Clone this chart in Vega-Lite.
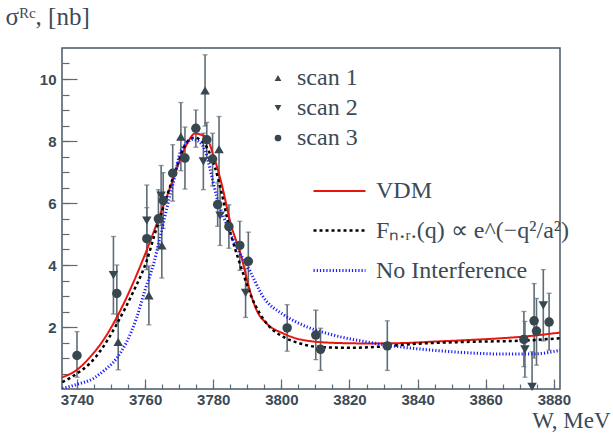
{
  "$schema": "https://vega.github.io/schema/vega-lite/v6.json",
  "width": 498,
  "height": 341,
  "autosize": "none",
  "padding": {"left": 62, "top": 48, "right": 53, "bottom": 44},
  "background": "white",
  "config": {
    "view": {"stroke": "#4a5a66", "strokeWidth": 1.5},
    "font": "Liberation Serif",
    "axis": {"grid": false, "domain": false, "tickColor": "#5a6a76", "tickWidth": 1.2},
    "legend": {"labelFontSize": 24, "labelColor": "#3c4a55", "labelLimit": 400},
    "style": {"guide-label": {"font": "Liberation Serif"}}
  },
  "datasets": {
    "points": [
      {"scan": "scan 1", "W": 3752.1, "s": 1.52, "lo": 0.62, "hi": 2.42},
      {"scan": "scan 1", "W": 3761.1, "s": 3.02, "lo": 2.07, "hi": 3.97},
      {"scan": "scan 1", "W": 3764.9, "s": 4.63, "lo": 3.58, "hi": 5.68},
      {"scan": "scan 1", "W": 3770.5, "s": 8.14, "lo": 7.04, "hi": 9.24},
      {"scan": "scan 1", "W": 3777.6, "s": 9.63, "lo": 8.48, "hi": 10.78},
      {"scan": "scan 1", "W": 3781.7, "s": 7.74, "lo": 6.69, "hi": 8.79},
      {"scan": "scan 2", "W": 3750.7, "s": 3.67, "lo": 2.42, "hi": 4.92},
      {"scan": "scan 2", "W": 3760.5, "s": 5.43, "lo": 4.28, "hi": 6.58},
      {"scan": "scan 2", "W": 3764.7, "s": 6.24, "lo": 5.27, "hi": 7.21},
      {"scan": "scan 2", "W": 3777.1, "s": 7.34, "lo": 6.43, "hi": 8.25},
      {"scan": "scan 2", "W": 3782.0, "s": 5.59, "lo": 4.63, "hi": 6.55},
      {"scan": "scan 2", "W": 3789.5, "s": 3.10, "lo": 2.31, "hi": 3.89},
      {"scan": "scan 2", "W": 3871.5, "s": 1.28, "lo": 0.38, "hi": 2.18},
      {"scan": "scan 2", "W": 3873.6, "s": 0.07, "lo": -1.1, "hi": 1.2},
      {"scan": "scan 2", "W": 3876.9, "s": 2.70, "lo": 1.55, "hi": 3.85},
      {"scan": "scan 3", "W": 3740.0, "s": 1.08, "lo": 0.38, "hi": 1.85},
      {"scan": "scan 3", "W": 3751.7, "s": 3.08, "lo": 2.13, "hi": 4.0},
      {"scan": "scan 3", "W": 3760.5, "s": 4.85, "lo": 3.85, "hi": 5.85},
      {"scan": "scan 3", "W": 3763.9, "s": 5.49, "lo": 4.55, "hi": 6.43},
      {"scan": "scan 3", "W": 3765.3, "s": 6.08, "lo": 5.18, "hi": 6.98},
      {"scan": "scan 3", "W": 3768.1, "s": 6.96, "lo": 6.06, "hi": 7.88},
      {"scan": "scan 3", "W": 3771.7, "s": 7.45, "lo": 6.45, "hi": 8.45},
      {"scan": "scan 3", "W": 3774.9, "s": 8.41, "lo": 7.8, "hi": 9.0},
      {"scan": "scan 3", "W": 3778.1, "s": 8.04, "lo": 7.45, "hi": 8.6},
      {"scan": "scan 3", "W": 3779.8, "s": 7.42, "lo": 6.55, "hi": 8.25},
      {"scan": "scan 3", "W": 3781.3, "s": 5.95, "lo": 5.25, "hi": 6.65},
      {"scan": "scan 3", "W": 3784.6, "s": 5.24, "lo": 4.54, "hi": 5.94},
      {"scan": "scan 3", "W": 3787.8, "s": 4.63, "lo": 3.83, "hi": 5.41},
      {"scan": "scan 3", "W": 3790.3, "s": 4.12, "lo": 3.22, "hi": 5.06},
      {"scan": "scan 3", "W": 3801.7, "s": 1.97, "lo": 1.22, "hi": 2.72},
      {"scan": "scan 3", "W": 3810.1, "s": 1.74, "lo": 0.95, "hi": 2.54},
      {"scan": "scan 3", "W": 3811.5, "s": 1.28, "lo": 0.6, "hi": 1.96},
      {"scan": "scan 3", "W": 3831.1, "s": 1.39, "lo": 0.6, "hi": 2.2},
      {"scan": "scan 3", "W": 3871.2, "s": 1.60, "lo": 0.72, "hi": 2.5},
      {"scan": "scan 3", "W": 3874.2, "s": 2.20, "lo": 1.0, "hi": 3.4},
      {"scan": "scan 3", "W": 3874.9, "s": 1.87, "lo": 0.77, "hi": 2.92},
      {"scan": "scan 3", "W": 3878.6, "s": 2.16, "lo": 1.25, "hi": 3.09}
    ],
    "curves": [
      {"model": "VDM", "W": 3735.7, "s": 0.38},
      {"model": "VDM", "W": 3740, "s": 0.62},
      {"model": "VDM", "W": 3744, "s": 1.05},
      {"model": "VDM", "W": 3748, "s": 1.62},
      {"model": "VDM", "W": 3752, "s": 2.38},
      {"model": "VDM", "W": 3756, "s": 3.3},
      {"model": "VDM", "W": 3760, "s": 4.35},
      {"model": "VDM", "W": 3764, "s": 5.5},
      {"model": "VDM", "W": 3768, "s": 6.7},
      {"model": "VDM", "W": 3771, "s": 7.6},
      {"model": "VDM", "W": 3773, "s": 8.05},
      {"model": "VDM", "W": 3774.6, "s": 8.24},
      {"model": "VDM", "W": 3776.5, "s": 8.2},
      {"model": "VDM", "W": 3778.1, "s": 8.1},
      {"model": "VDM", "W": 3780, "s": 7.55},
      {"model": "VDM", "W": 3782.5, "s": 6.6},
      {"model": "VDM", "W": 3784.9, "s": 5.43},
      {"model": "VDM", "W": 3788.3, "s": 4.25},
      {"model": "VDM", "W": 3790.8, "s": 3.15},
      {"model": "VDM", "W": 3792.7, "s": 2.55},
      {"model": "VDM", "W": 3795.7, "s": 2.11},
      {"model": "VDM", "W": 3800.6, "s": 1.79},
      {"model": "VDM", "W": 3805.5, "s": 1.6},
      {"model": "VDM", "W": 3815, "s": 1.49},
      {"model": "VDM", "W": 3825, "s": 1.47},
      {"model": "VDM", "W": 3835, "s": 1.48},
      {"model": "VDM", "W": 3845, "s": 1.53},
      {"model": "VDM", "W": 3855, "s": 1.58},
      {"model": "VDM", "W": 3865, "s": 1.64},
      {"model": "VDM", "W": 3871, "s": 1.69},
      {"model": "VDM", "W": 3881.8, "s": 1.82},
      {"model": "Fₙ.ᵣ.(q) ∝ e^(−q²/a²)", "W": 3735.7, "s": 0.22},
      {"model": "Fₙ.ᵣ.(q) ∝ e^(−q²/a²)", "W": 3740, "s": 0.5},
      {"model": "Fₙ.ᵣ.(q) ∝ e^(−q²/a²)", "W": 3744, "s": 0.85},
      {"model": "Fₙ.ᵣ.(q) ∝ e^(−q²/a²)", "W": 3747, "s": 1.25},
      {"model": "Fₙ.ᵣ.(q) ∝ e^(−q²/a²)", "W": 3751.7, "s": 2.1},
      {"model": "Fₙ.ᵣ.(q) ∝ e^(−q²/a²)", "W": 3756.5, "s": 3.13},
      {"model": "Fₙ.ᵣ.(q) ∝ e^(−q²/a²)", "W": 3760.5, "s": 4.15},
      {"model": "Fₙ.ᵣ.(q) ∝ e^(−q²/a²)", "W": 3763, "s": 5.06},
      {"model": "Fₙ.ᵣ.(q) ∝ e^(−q²/a²)", "W": 3766.3, "s": 6.18},
      {"model": "Fₙ.ᵣ.(q) ∝ e^(−q²/a²)", "W": 3769.2, "s": 7.15},
      {"model": "Fₙ.ᵣ.(q) ∝ e^(−q²/a²)", "W": 3771.2, "s": 7.75},
      {"model": "Fₙ.ᵣ.(q) ∝ e^(−q²/a²)", "W": 3773, "s": 8.05},
      {"model": "Fₙ.ᵣ.(q) ∝ e^(−q²/a²)", "W": 3774.6, "s": 8.11},
      {"model": "Fₙ.ᵣ.(q) ∝ e^(−q²/a²)", "W": 3776, "s": 8.05},
      {"model": "Fₙ.ᵣ.(q) ∝ e^(−q²/a²)", "W": 3778.1, "s": 7.8},
      {"model": "Fₙ.ᵣ.(q) ∝ e^(−q²/a²)", "W": 3780.5, "s": 7.15},
      {"model": "Fₙ.ᵣ.(q) ∝ e^(−q²/a²)", "W": 3782.5, "s": 6.3},
      {"model": "Fₙ.ᵣ.(q) ∝ e^(−q²/a²)", "W": 3784.9, "s": 5.11},
      {"model": "Fₙ.ᵣ.(q) ∝ e^(−q²/a²)", "W": 3787.8, "s": 4.05},
      {"model": "Fₙ.ᵣ.(q) ∝ e^(−q²/a²)", "W": 3789.8, "s": 3.4},
      {"model": "Fₙ.ᵣ.(q) ∝ e^(−q²/a²)", "W": 3791.3, "s": 2.95},
      {"model": "Fₙ.ᵣ.(q) ∝ e^(−q²/a²)", "W": 3793.7, "s": 2.43},
      {"model": "Fₙ.ᵣ.(q) ∝ e^(−q²/a²)", "W": 3796.6, "s": 2.0},
      {"model": "Fₙ.ᵣ.(q) ∝ e^(−q²/a²)", "W": 3800.6, "s": 1.68},
      {"model": "Fₙ.ᵣ.(q) ∝ e^(−q²/a²)", "W": 3805.5, "s": 1.47},
      {"model": "Fₙ.ᵣ.(q) ∝ e^(−q²/a²)", "W": 3810.4, "s": 1.36},
      {"model": "Fₙ.ᵣ.(q) ∝ e^(−q²/a²)", "W": 3820, "s": 1.33},
      {"model": "Fₙ.ᵣ.(q) ∝ e^(−q²/a²)", "W": 3830.9, "s": 1.38},
      {"model": "Fₙ.ᵣ.(q) ∝ e^(−q²/a²)", "W": 3840, "s": 1.46},
      {"model": "Fₙ.ᵣ.(q) ∝ e^(−q²/a²)", "W": 3854.4, "s": 1.52},
      {"model": "Fₙ.ᵣ.(q) ∝ e^(−q²/a²)", "W": 3871, "s": 1.56},
      {"model": "Fₙ.ᵣ.(q) ∝ e^(−q²/a²)", "W": 3881.8, "s": 1.64},
      {"model": "No Interference", "W": 3735.7, "s": 0.02},
      {"model": "No Interference", "W": 3740, "s": 0.15},
      {"model": "No Interference", "W": 3744.8, "s": 0.34},
      {"model": "No Interference", "W": 3748, "s": 0.6},
      {"model": "No Interference", "W": 3751.7, "s": 1.0},
      {"model": "No Interference", "W": 3754.5, "s": 1.5},
      {"model": "No Interference", "W": 3757.5, "s": 2.3},
      {"model": "No Interference", "W": 3760, "s": 3.2},
      {"model": "No Interference", "W": 3762.4, "s": 4.0},
      {"model": "No Interference", "W": 3764, "s": 4.7},
      {"model": "No Interference", "W": 3766.3, "s": 5.8},
      {"model": "No Interference", "W": 3768.8, "s": 6.9},
      {"model": "No Interference", "W": 3770.2, "s": 7.6},
      {"model": "No Interference", "W": 3772, "s": 7.9},
      {"model": "No Interference", "W": 3773.8, "s": 8.05},
      {"model": "No Interference", "W": 3775.5, "s": 8.0},
      {"model": "No Interference", "W": 3777.6, "s": 7.7},
      {"model": "No Interference", "W": 3779.5, "s": 6.9},
      {"model": "No Interference", "W": 3781, "s": 6.2},
      {"model": "No Interference", "W": 3782.9, "s": 5.6},
      {"model": "No Interference", "W": 3786.9, "s": 4.57},
      {"model": "No Interference", "W": 3790.8, "s": 3.8},
      {"model": "No Interference", "W": 3794.5, "s": 3.0},
      {"model": "No Interference", "W": 3800.6, "s": 2.4},
      {"model": "No Interference", "W": 3805.5, "s": 2.1},
      {"model": "No Interference", "W": 3815.2, "s": 1.74},
      {"model": "No Interference", "W": 3825, "s": 1.52},
      {"model": "No Interference", "W": 3834.8, "s": 1.36},
      {"model": "No Interference", "W": 3844.6, "s": 1.25},
      {"model": "No Interference", "W": 3854.4, "s": 1.17},
      {"model": "No Interference", "W": 3864.2, "s": 1.13},
      {"model": "No Interference", "W": 3873.9, "s": 1.13},
      {"model": "No Interference", "W": 3881.8, "s": 1.25}
    ]
  },
  "layer": [
    {
      "data": {"name": "points"},
      "mark": {"type": "rule", "clip": true, "color": "#5f6d77", "strokeWidth": 1.6},
      "encoding": {
        "x": {"field": "W", "type": "quantitative", "scale": {"domain": [3735.6, 3881.8], "nice": false, "zero": false},
              "axis": {"orient": "bottom", "values": [3740,3745,3750,3755,3760,3765,3770,3775,3780,3785,3790,3795,3800,3805,3810,3815,3820,3825,3830,3835,3840,3845,3850,3855,3860,3865,3870,3875,3880], "labels": false, "tickSize": -5, "title": null}},
        "y": {"field": "lo", "type": "quantitative", "scale": {"domain": [0, 11], "nice": false, "zero": false},
              "axis": {"orient": "left", "values": [0.5,1,1.5,2,2.5,3,3.5,4,4.5,5,5.5,6,6.5,7,7.5,8,8.5,9,9.5,10,10.5], "labels": false, "tickSize": -7, "title": null}},
        "y2": {"field": "hi"}
      }
    },
    {
      "data": {"name": "points"},
      "mark": {"type": "tick", "orient": "horizontal", "clip": true, "color": "#5f6d77", "size": 5, "thickness": 1.3},
      "encoding": {
        "x": {"field": "W", "type": "quantitative", "axis": null},
        "y": {"field": "lo", "type": "quantitative", "axis": null}
      }
    },
    {
      "data": {"name": "points"},
      "mark": {"type": "tick", "orient": "horizontal", "clip": true, "color": "#5f6d77", "size": 5, "thickness": 1.3},
      "encoding": {
        "x": {"field": "W", "type": "quantitative", "axis": null},
        "y": {"field": "hi", "type": "quantitative", "axis": null}
      }
    },
    {
      "data": {"name": "curves"},
      "mark": {"type": "line", "clip": true, "interpolate": "monotone"},
      "encoding": {
        "x": {"field": "W", "type": "quantitative",
              "axis": {"orient": "bottom", "values": [3740,3760,3780,3800,3820,3840,3860,3880], "format": "d", "tickSize": -10, "labelPadding": 13,
                       "labelFont": "Liberation Sans", "labelFontWeight": "bold", "labelFontSize": 15, "labelColor": "#3c4a55",
                       "title": "W, MeV", "titleFont": "Liberation Serif", "titleFontWeight": "normal", "titleFontSize": 23, "titleColor": "#3c4a55",
                       "titleAnchor": null, "titleAlign": "right", "titleBaseline": "alphabetic", "titleX": 548, "titleY": 38}},
        "y": {"field": "s", "type": "quantitative",
              "axis": {"orient": "left", "values": [2,4,6,8,10], "tickSize": -15, "labelPadding": 21,
                       "labelFont": "Liberation Sans", "labelFontWeight": "bold", "labelFontSize": 15, "labelColor": "#3c4a55",
                       "title": "σᴿᶜ, [nb]", "titleFont": "Liberation Serif", "titleFontWeight": "normal", "titleFontSize": 25, "titleColor": "#3c4a55",
                       "titleAngle": 0, "titleAnchor": null, "titleAlign": "left", "titleBaseline": "alphabetic", "titleX": -57, "titleY": -24}},
        "color": {"field": "model", "type": "nominal",
                  "scale": {"domain": ["VDM", "Fₙ.ᵣ.(q) ∝ e^(−q²/a²)", "No Interference"], "range": ["#e8150f", "#000000", "#1a1aff"]},
                  "legend": {"orient": "none", "legendX": 250, "legendY": 116, "title": null, "symbolType": "stroke", "symbolSize": 2700,
                             "labelFont": "Liberation Serif", "labelFontSize": 24, "labelOffset": 9, "rowPadding": -14}},
        "strokeDash": {"field": "model", "type": "nominal",
                       "scale": {"domain": ["VDM", "Fₙ.ᵣ.(q) ∝ e^(−q²/a²)", "No Interference"], "range": [[1, 0], [3, 3], [1.2, 2]]},
                       "legend": {"orient": "none", "legendX": 250, "legendY": 116, "title": null, "symbolType": "stroke", "symbolSize": 2700,
                             "labelFont": "Liberation Serif", "labelFontSize": 24, "labelOffset": 9, "rowPadding": -14}},
        "strokeWidth": {"field": "model", "type": "nominal",
                        "scale": {"domain": ["VDM", "Fₙ.ᵣ.(q) ∝ e^(−q²/a²)", "No Interference"], "range": [2, 3, 1.2]},
                        "legend": {"orient": "none", "legendX": 250, "legendY": 116, "title": null, "symbolType": "stroke", "symbolSize": 2700,
                             "labelFont": "Liberation Serif", "labelFontSize": 24, "labelOffset": 9, "rowPadding": -14}}
      }
    },
    {
      "data": {"name": "points"},
      "mark": {"type": "point", "filled": true, "opacity": 1, "color": "#37474f", "size": 90},
      "encoding": {
        "x": {"field": "W", "type": "quantitative", "axis": null},
        "y": {"field": "s", "type": "quantitative", "axis": null},
        "shape": {"field": "scan", "type": "nominal",
                  "scale": {"domain": ["scan 1", "scan 2", "scan 3"], "range": ["triangle-up", "triangle-down", "circle"]},
                  "legend": {"orient": "none", "legendX": 204, "legendY": 18, "title": null, "symbolSize": 45, "symbolFillColor": "#37474f", "symbolStrokeColor": "#37474f",
                             "labelFont": "Liberation Serif", "labelFontSize": 24, "labelOffset": 7, "rowPadding": 6}}
      }
    }
  ],
  "resolve": {"axis": {"x": "independent", "y": "independent"}}
}
